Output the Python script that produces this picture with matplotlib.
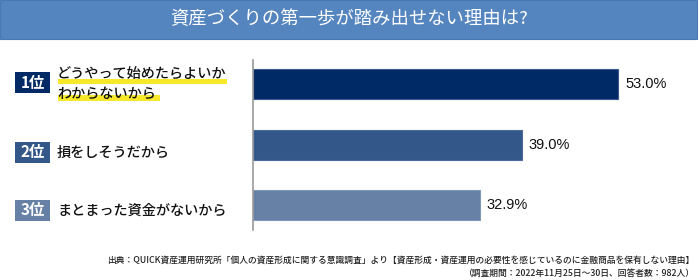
import matplotlib
matplotlib.use("Agg")
import matplotlib.pyplot as plt
from matplotlib.patches import Rectangle

plt.rcParams['font.family'] = ['Noto Sans CJK JP', 'DejaVu Sans']

title = "資産づくりの第一歩が踏み出せない理由は?"
ranks = ["1位", "2位", "3位"]
reasons = ["どうやって始めたらよいか\nわからないから", "損をしそうだから", "まとまった資金がないから"]
values = [53.0, 39.0, 32.9]
value_labels = ["53.0%", "39.0%", "32.9%"]
colors = ["#002a66", "#34578a", "#6680a6"]
footer1 = "出典：QUICK資産運用研究所「個人の資産形成に関する意識調査」より【資産形成・資産運用の必要性を感じているのに金融商品を保有しない理由】"
footer2 = "（調査期間：2022年11月25日〜30日、回答者数：982人）"

W, H = 700, 280
fig = plt.figure(figsize=(W / 100, H / 100), dpi=100)
fig.patch.set_facecolor("white")

def fx(px):
    return px / W

def fy(py):
    return 1 - py / H

# Title banner
fig.patches.append(Rectangle((fx(0), fy(39)), fx(697), 39 / H, transform=fig.transFigure,
                             facecolor="#5585bf", edgecolor="#4a78b0", lw=0.8, zorder=0))
fig.text(fx(349), fy(19.5), title, color="white", fontsize=13.2, ha="center", va="center")

# Bar axes
ax = fig.add_axes([fx(253), fy(230), fx(447), 170 / H])
ypos = list(range(len(values)))
ax.barh(ypos, values, height=0.5, color=colors, edgecolor=["#3a5a8f", "#4a6b9c", "#7f97b8"], lw=0.8)
ax.set_xlim(0, 447 / 6.89)
ax.set_ylim(2.41, -0.40)
for s in ["top", "right", "bottom"]:
    ax.spines[s].set_visible(False)
ax.spines["left"].set_color("#999999")
ax.spines["left"].set_linewidth(1.2)
ax.set_xticks([])
ax.set_yticks([])
ax.patch.set_alpha(0)
for y, v, lab in zip(ypos, values, value_labels):
    ax.annotate(lab, (v, y), xytext=(5, 0), textcoords="offset points",
                ha="left", va="center", fontsize=10.5, color="#111111",
                family=['Liberation Sans', 'DejaVu Sans'])

# Rank boxes and reason labels
box_tops = [72, 142, 200]
text_y = [[75, 94], [153], [211]]
hl_lines = [(58, 227, 81.5), (58, 160, 98)]
for i, (rk, reason, col) in enumerate(zip(ranks, reasons, colors)):
    t = box_tops[i]
    fig.patches.append(Rectangle((fx(15), fy(t + 21)), fx(35), 21 / H, transform=fig.transFigure,
                                 facecolor=col, edgecolor="none", zorder=1))
    fig.text(fx(32.5), fy(t + 10.5), rk, color="white", fontsize=11, fontweight="bold",
             ha="center", va="center", zorder=3)
    lines = reason.split("\n")
    if i == 0:
        for (x0, x1, yy) in hl_lines:
            fig.patches.append(Rectangle((fx(x0), fy(yy + 2.7)), fx(x1 - x0), 5.4 / H,
                                         transform=fig.transFigure, facecolor="#f7e82a",
                                         edgecolor="none", zorder=1))
    for ln, yy in zip(lines, text_y[i]):
        fig.text(fx(57), fy(yy), ln, color="#111111", fontsize=10.2, fontweight="medium",
                 ha="left", va="center", zorder=3)

# Footer
fig.text(fx(694), fy(260), footer1, fontsize=6.3, ha="right", va="center", color="#222222",
         fontweight="medium")
fig.text(fx(694), fy(273), footer2, fontsize=6.3, ha="right", va="center", color="#222222",
         fontweight="medium")

fig.savefig("out.png", dpi=100)
